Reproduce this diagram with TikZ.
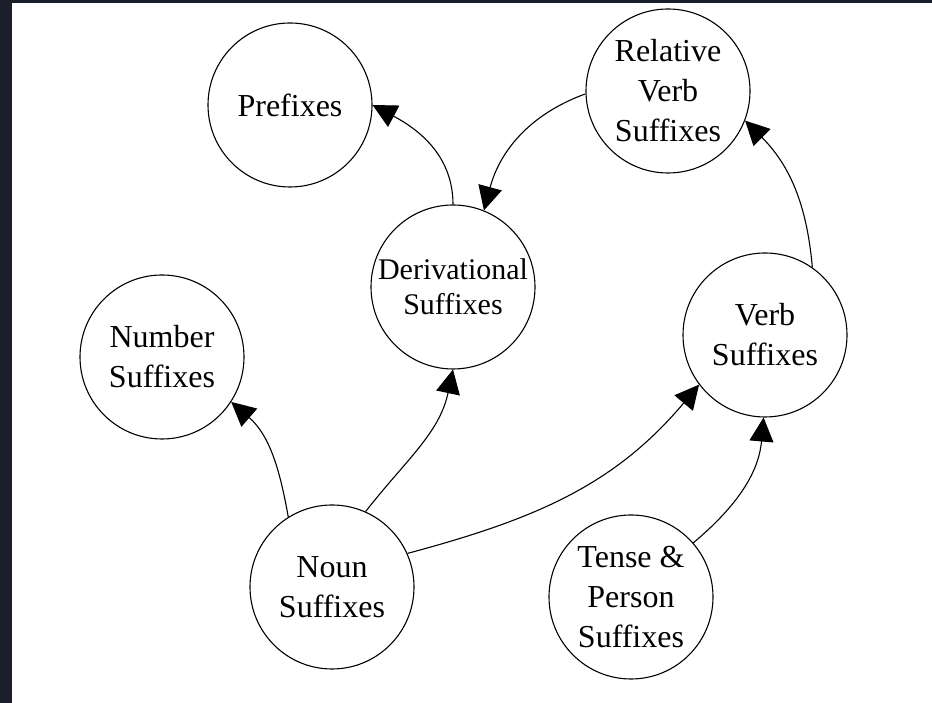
\documentclass[tikz,border=0pt]{standalone}
\usepackage{fontspec}
\setmainfont{Liberation Serif}
\usetikzlibrary{arrows.meta}
\definecolor{frame}{HTML}{1B1F2B}
\tikzset{
  bubble/.style={circle, draw, line width=1.1pt, minimum size=164pt, inner sep=0pt, align=center,
    font=\fontsize{32pt}{40pt}\selectfont},
  smallbubble/.style={bubble, font=\fontsize{30pt}{35pt}\selectfont},
  arr/.style={line width=1.1pt, -{Triangle[length=24pt,width=24pt]}}
}
\begin{document}
\begin{tikzpicture}[x=1pt,y=1pt]
\fill[white] (0,0) rectangle (932,703);
\useasboundingbox (0,0) rectangle (932,703);
\fill[frame] (0,0) rectangle (12,703);
\fill[frame] (0,700) rectangle (932,703);

\node[bubble] (pref) at (290,598) {Prefixes};
\node[bubble] (rel) at (668,612) {Relative\\Verb\\Suffixes};
\node[smallbubble] (deriv) at (453,416) {Derivational\\Suffixes};
\node[bubble] (num) at (162,346) {Number\\Suffixes};
\node[bubble] (verb) at (765,368) {Verb\\Suffixes};
\node[bubble] (noun) at (332,116) {Noun\\Suffixes};
\node[bubble] (tense) at (631,106) {Tense \&\\Person\\Suffixes};

\draw[arr] (deriv.90) to[out=90,in=-28] (pref.0);
\draw[arr] (rel.182) to[out=200,in=75] (deriv.68);
\draw[arr] (verb.55) to[out=95,in=-45] (rel.-21);
\draw[arr] (noun.122) to[out=100,in=-41] (num.-33);
\draw[arr] (noun.66) to[out=52,in=-102] (deriv.-90);
\draw[arr] (noun.24) to[out=15,in=-130] (verb.-143);
\draw[arr] (tense.41) to[out=40,in=-95] (verb.-91);
\end{tikzpicture}
\end{document}
